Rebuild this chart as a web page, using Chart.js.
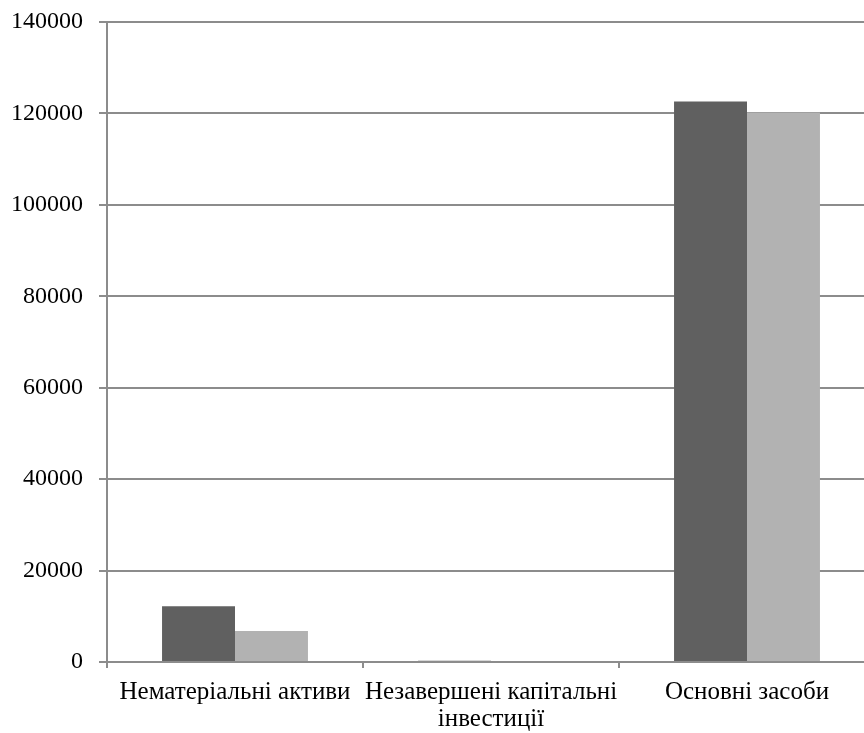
<!DOCTYPE html>
<html>
<head>
<meta charset="utf-8">
<script src="https://cdn.jsdelivr.net/npm/chart.js@4/dist/chart.umd.min.js"></script>
<style>
  html, body { margin: 0; padding: 0; background: #fff; overflow: hidden; }
  #wrap { width: 864px; height: 733px; overflow: hidden; }
  #box { width: 880px; height: 733px; position: relative; }
</style>
</head>
<body>
<div id="wrap"><div id="box"><canvas id="barChart"></canvas></div></div>
<script>
// категорії та значення
const categories = [
    'Нематеріальні активи',
    ['Незавершені капітальні', 'інвестиції'],
    'Основні засоби'
];
const seriesA = [12200, 250, 122600];
const seriesB = [6800, 0, 120200];
const yTicks = [0, 20000, 40000, 60000, 80000, 100000, 120000, 140000];

const gridColor = '#8c8c8c';
const family = '"Liberation Serif", "Times New Roman", serif';

new Chart(document.getElementById('barChart').getContext('2d'), {
    type: 'bar',
    data: {
        labels: categories,
        datasets: [
            { label: 'A', data: seriesA, backgroundColor: '#606060' },
            { label: 'B', data: seriesB, backgroundColor: '#b2b2b2' }
        ]
    },
    options: {
        responsive: true,
        maintainAspectRatio: false,
        animation: false,
        layout: { padding: { top: 22, right: 5, left: 0, bottom: 0 } },
        plugins: { legend: { display: false }, tooltip: { enabled: false } },
        datasets: { bar: { barPercentage: 1, categoryPercentage: 0.57 } },
        scales: {
            x: {
                offset: true,
                grid: { offset: true, drawOnChartArea: false, color: gridColor, tickLength: 6, lineWidth: 2 },
                border: { color: gridColor, width: 2 },
                ticks: { color: '#000', font: { family: family, size: 25, lineHeight: 1.08 }, maxRotation: 0, autoSkip: false, padding: 11 },
                afterFit: function(scale) {
                    scale.height = 71;
                    scale.paddingLeft = 0;
                    scale.paddingRight = 0;
                }
            },
            y: {
                min: 0,
                max: 140000,
                afterBuildTicks: function(scale) {
                    scale.ticks = yTicks.map(v => ({ value: v }));
                },
                grid: { color: gridColor, tickLength: 8, lineWidth: 2 },
                border: { color: gridColor, width: 2 },
                ticks: { color: '#000', font: { family: family, size: 24 }, padding: 16, callback: v => String(v) },
                afterFit: function(scale) {
                    scale.width = 107;
                    scale.paddingTop = 0;
                    scale.paddingBottom = 0;
                }
            }
        }
    }
});
</script>
</body>
</html>
